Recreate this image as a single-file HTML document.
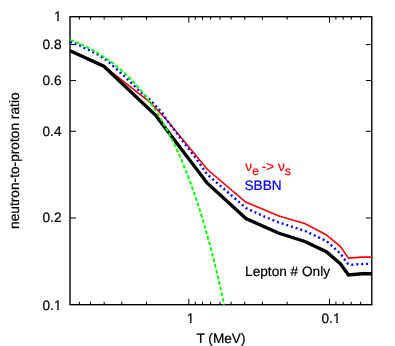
<!DOCTYPE html>
<html><head><meta charset="utf-8"><style>
html,body{margin:0;padding:0;background:#fff}
svg{display:block}
text{font-family:"Liberation Sans",sans-serif;font-size:13.65px;fill:#000;stroke:#000;stroke-width:.22px;text-rendering:geometricPrecision}
</style></head><body>
<svg width="395" height="346" viewBox="0 0 395 346">
<rect width="395" height="346" fill="#fff"/>
<path d="M79.41,304.7 v-3 M79.41,16.7 v3 M90.55,304.7 v-3 M90.55,16.7 v3 M104.18,304.7 v-3 M104.18,16.7 v3 M121.75,304.7 v-3 M121.75,16.7 v3 M146.51,304.7 v-3 M146.51,16.7 v3 M188.84,304.7 v-6 M188.84,16.7 v6 M195.28,304.7 v-3 M195.28,16.7 v3 M202.47,304.7 v-3 M202.47,16.7 v3 M210.63,304.7 v-3 M210.63,16.7 v3 M220.04,304.7 v-3 M220.04,16.7 v3 M231.17,304.7 v-3 M231.17,16.7 v3 M244.8,304.7 v-3 M244.8,16.7 v3 M262.37,304.7 v-3 M262.37,16.7 v3 M287.14,304.7 v-3 M287.14,16.7 v3 M329.47,304.7 v-6 M329.47,16.7 v6 M335.9,304.7 v-3 M335.9,16.7 v3 M343.1,304.7 v-3 M343.1,16.7 v3 M351.25,304.7 v-3 M351.25,16.7 v3 M360.67,304.7 v-3 M360.67,16.7 v3 M70,44.61 h6 M371.8,44.61 h-6 M70,80.59 h6 M371.8,80.59 h-6 M70,131.31 h6 M371.8,131.31 h-6 M70,218 h6 M371.8,218 h-6" fill="none" stroke="#000" stroke-width="1"/>
<rect x="70" y="16.7" width="301.8" height="288" fill="none" stroke="#000" stroke-width="1.4"/>
<path d="M70,50.8 L103.9,66.2 L150.2,102.3 L168,121.5 L207.4,169.5 L245.7,202 L278.9,215.9 L305.3,223.8 L326.1,234.7 L340.2,246.3 L348.5,258.1 L362,257.1 L372,257.1" fill="none" stroke="#ff0000" stroke-width="1.6" stroke-linejoin="miter"/>
<path d="M70,50.8 L103.9,66.2 L155.9,115.6 L207.3,183.2 L245.9,218.5 L278.3,233 L304.8,241.5 L326.4,251.8 L340.3,263.7 L348.5,275 L362,273.7 L372,273.7" fill="none" stroke="#000" stroke-width="3.4" stroke-linejoin="miter"/>
<path d="M70,41.9 L80,45.5 L84.2,48 L88.7,49.9 L93.1,52 L97.5,54.3 L105.4,59.5 L109.2,62.4 L112.6,65.6 L116.4,68.9 L120,72.3 L123.6,75.5 L127.15,78.95 L130.7,82.3 L134.1,85.7 L137.5,89.1 L141.1,92.5 L145.1,95.9 L149,98.9 L152.3,102 L155.7,105.8 L159,109.3 L162.2,112.7 L167.6,121.1 L185.4,144.7 L197.3,160 L206.8,174 L246,208.1 L264,216.4 L278.5,222.3 L305,230.9 L326.7,241.2 L340.3,253.4 L347.5,263.5 L351.8,264.7 L358,264.2 L372,263.7" fill="none" stroke="#0000ff" stroke-width="2.4" stroke-dasharray="2 2.9"/>
<path d="M70,39.8 L70.77,40.1 L71.54,40.39 L72.31,40.69 L73.08,41 L73.85,41.31 L74.62,41.62 L75.39,41.94 L76.16,42.26 L76.93,42.58 L77.7,42.91 L78.47,43.24 L79.25,43.58 L80.02,43.92 L80.79,44.27 L81.56,44.62 L82.33,44.97 L83.1,45.33 L83.87,45.69 L84.64,46.06 L85.41,46.43 L86.18,46.81 L86.95,47.19 L87.72,47.58 L88.49,47.97 L89.26,48.37 L90.03,48.77 L90.8,49.18 L91.57,49.59 L92.34,50.01 L93.11,50.43 L93.88,50.86 L94.65,51.29 L95.42,51.73 L96.19,52.18 L96.96,52.63 L97.74,53.08 L98.51,53.55 L99.28,54.01 L100.05,54.49 L100.82,54.97 L101.59,55.45 L102.36,55.94 L103.13,56.44 L103.9,56.95 L104.67,57.46 L105.44,57.98 L106.21,58.5 L106.98,59.03 L107.75,59.57 L108.52,60.11 L109.29,60.66 L110.06,61.22 L110.83,61.79 L111.6,62.36 L112.37,62.94 L113.14,63.52 L113.91,64.12 L114.68,64.72 L115.46,65.33 L116.23,65.95 L117,66.57 L117.77,67.21 L118.54,67.85 L119.31,68.5 L120.08,69.15 L120.85,69.82 L121.62,70.49 L122.39,71.18 L123.16,71.87 L123.93,72.57 L124.7,73.28 L125.47,74 L126.24,74.72 L127.01,75.46 L127.78,76.21 L128.55,76.96 L129.32,77.73 L130.09,78.5 L130.86,79.29 L131.63,80.08 L132.4,80.89 L133.17,81.7 L133.95,82.53 L134.72,83.36 L135.49,84.21 L136.26,85.07 L137.03,85.93 L137.8,86.81 L138.57,87.7 L139.34,88.6 L140.11,89.52 L140.88,90.44 L141.65,91.38 L142.42,92.32 L143.19,93.28 L143.96,94.26 L144.73,95.24 L145.5,96.24 L146.27,97.25 L147.04,98.27 L147.81,99.31 L148.58,100.36 L149.35,101.42 L150.12,102.49 L150.89,103.58 L151.67,104.68 L152.44,105.8 L153.21,106.93 L153.98,108.08 L154.75,109.24 L155.52,110.41 L156.29,111.6 L157.06,112.81 L157.83,114.03 L158.6,115.26 L159.37,116.51 L160.14,117.78 L160.91,119.06 L161.68,120.36 L162.45,121.68 L163.22,123.01 L163.99,124.36 L164.76,125.73 L165.53,127.11 L166.3,128.51 L167.07,129.93 L167.84,131.37 L168.61,132.83 L169.39,134.3 L170.16,135.79 L170.93,137.31 L171.7,138.84 L172.47,140.39 L173.24,141.96 L174.01,143.55 L174.78,145.16 L175.55,146.79 L176.32,148.44 L177.09,150.11 L177.86,151.81 L178.63,153.52 L179.4,155.26 L180.17,157.02 L180.94,158.8 L181.71,160.6 L182.48,162.43 L183.25,164.28 L184.02,166.15 L184.79,168.05 L185.56,169.97 L186.33,171.92 L187.1,173.89 L187.88,175.88 L188.65,177.9 L189.42,179.95 L190.19,182.02 L190.96,184.12 L191.73,186.25 L192.5,188.4 L193.27,190.58 L194.04,192.79 L194.81,195.02 L195.58,197.29 L196.35,199.58 L197.12,201.9 L197.89,204.25 L198.66,206.63 L199.43,209.04 L200.2,211.49 L200.97,213.96 L201.74,216.46 L202.51,219 L203.28,221.57 L204.05,224.17 L204.82,226.8 L205.6,229.47 L206.37,232.17 L207.14,234.9 L207.91,237.67 L208.68,240.48 L209.45,243.32 L210.22,246.2 L210.99,249.11 L211.76,252.06 L212.53,255.05 L213.3,258.08 L214.07,261.14 L214.84,264.24 L215.61,267.38 L216.38,270.57 L217.15,273.79 L217.92,277.05 L218.69,280.36 L219.46,283.71 L220.23,287.1 L221,290.53 L221.77,294 L222.54,297.52 L223.31,301.09 L224.09,304.7" fill="none" stroke="#00ff00" stroke-width="1.9" stroke-dasharray="3.8 2"/>
<defs><mask id="m" maskUnits="userSpaceOnUse" x="0" y="0" width="395" height="346"><rect width="395" height="346" fill="#fff"/></mask></defs>
<g mask="url(#m)">
<text x="61.5" y="21.2" text-anchor="end">1</text><text x="61.5" y="49.11" text-anchor="end">0.8</text><text x="61.5" y="85.09" text-anchor="end">0.6</text><text x="61.5" y="135.81" text-anchor="end">0.4</text><text x="61.5" y="222.3" text-anchor="end">0.2</text><text x="61.5" y="309.7" text-anchor="end">0.1</text>
<text x="190.5" y="322.7" text-anchor="middle">1</text>
<text x="331" y="322.7" text-anchor="middle">0.1</text>
<text x="221" y="343" text-anchor="middle">T (MeV)</text>
<text transform="translate(19,160.7) rotate(-90)" text-anchor="middle" style="font-size:13.72px">neutron-to-proton ratio</text>
<text y="170.6" style="fill:#ff0000;stroke:#ff0000"><tspan x="245.3">&#957;</tspan><tspan dy="4" font-size="12.3">e</tspan><tspan x="261.8" dy="-4">-&gt;</tspan><tspan x="277.9">&#957;</tspan><tspan dy="4" font-size="12.3">s</tspan></text>
<text x="244.5" y="189.6" style="fill:#0000ff;stroke:#0000ff">SBBN</text>
<text x="245.1" y="276">Lepton # Only</text>
<rect x="54.01" y="18.9" width="3.15" height="3" fill="#fff"/><rect x="58.76" y="18.9" width="3.1" height="3" fill="#fff"/><rect x="54.01" y="307.9" width="3.15" height="3" fill="#fff"/><rect x="58.76" y="307.9" width="3.1" height="3" fill="#fff"/><rect x="186.8" y="320.9" width="3.15" height="3" fill="#fff"/><rect x="191.55" y="320.9" width="3.1" height="3" fill="#fff"/><rect x="333" y="320.9" width="3.15" height="3" fill="#fff"/><rect x="337.75" y="320.9" width="3.1" height="3" fill="#fff"/>
</g>
</svg>
</body></html>
